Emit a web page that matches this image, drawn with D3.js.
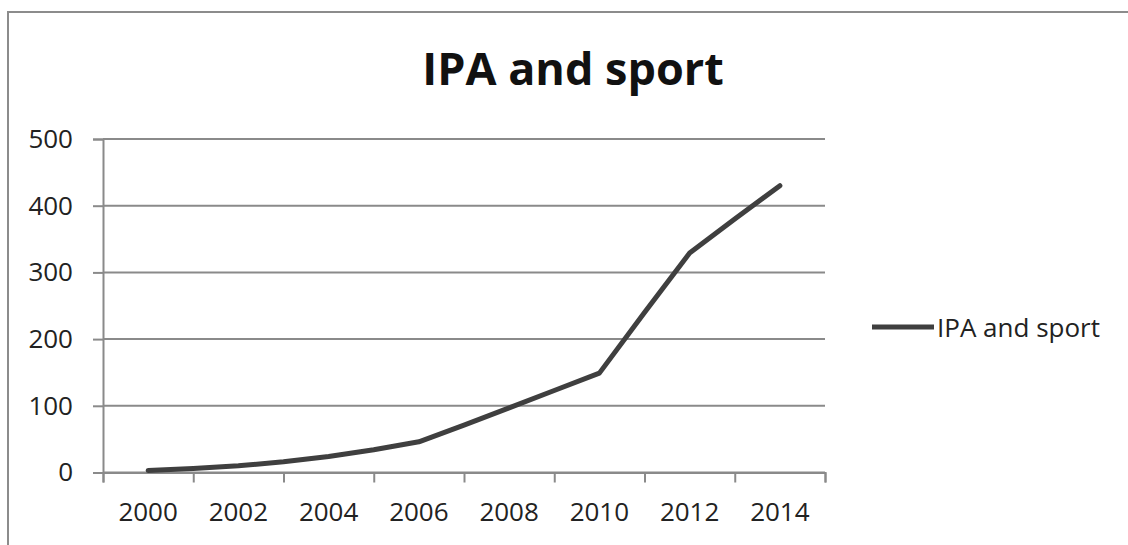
<!DOCTYPE html>
<html>
<head>
<meta charset="utf-8">
<script src="https://cdn.jsdelivr.net/npm/d3@7"></script>
<style>
  body { margin: 0; background: #fff; }
  svg { display: block; font-family: "Open Sans", sans-serif; }
</style>
</head>
<body>
<script>
const WIDTH = 1128;
const HEIGHT = 545;

// data
const years = [2000, 2001, 2002, 2003, 2004, 2005, 2006, 2007, 2008, 2009, 2010, 2011, 2012, 2013, 2014];
const values = [3, 6, 10, 16, 24, 34, 46, 71, 97, 123, 149, 240, 329, 380, 430];
const yTicks = [0, 100, 200, 300, 400, 500];
const xLabels = [2000, 2002, 2004, 2006, 2008, 2010, 2012, 2014];
const seriesName = "IPA and sport";

const LEFT = 103, RIGHT = 825, TOP = 139, BOTTOM = 472.5;
const GRID = "#8a8a8a";
const LINE = "#3f3f3f";

const svg = d3.select("body").append("svg")
  .attr("width", WIDTH)
  .attr("height", HEIGHT);

// outer frame
svg.append("rect")
  .attr("x", 8).attr("y", 12)
  .attr("width", WIDTH + 20).attr("height", HEIGHT + 20)
  .attr("fill", "none")
  .attr("stroke", "#8c8c8c")
  .attr("stroke-width", 2);

// title
svg.append("text")
  .attr("x", 573).attr("y", 85)
  .attr("text-anchor", "middle")
  .attr("font-size", 45)
  .attr("font-weight", "bold")
  .attr("fill", "#111")
  .text(seriesName);

// scales
const x = d3.scaleLinear().domain([1999, 2015]).range([LEFT, RIGHT]);
const y = d3.scaleLinear().domain([0, 500]).range([BOTTOM, TOP]);

// y axis with gridlines
const yAxis = svg.append("g")
  .attr("transform", "translate(" + LEFT + ",0)")
  .call(d3.axisLeft(y).tickValues(yTicks).tickSize(10).tickPadding(20));

yAxis.select(".domain").attr("stroke", GRID).attr("stroke-width", 2);
yAxis.selectAll(".tick line").attr("stroke", GRID).attr("stroke-width", 2);
yAxis.selectAll(".tick text")
  .attr("font-size", 26)
  .attr("font-family", "Open Sans, sans-serif")
  .attr("fill", "#222");

svg.append("g")
  .selectAll("line")
  .data(yTicks)
  .enter().append("line")
  .attr("x1", LEFT).attr("x2", RIGHT)
  .attr("y1", d => y(d)).attr("y2", d => y(d))
  .attr("stroke", GRID)
  .attr("stroke-width", 2);

// x axis: ticks between the labelled years
const oddYears = d3.range(1999, 2016, 2);
const xAxis = svg.append("g")
  .attr("transform", "translate(0," + BOTTOM + ")")
  .call(d3.axisBottom(x).tickValues(oddYears).tickSize(10).tickFormat(""));

xAxis.select(".domain").attr("stroke", GRID).attr("stroke-width", 2);
xAxis.selectAll(".tick line").attr("stroke", GRID).attr("stroke-width", 2);

svg.append("g")
  .selectAll("text")
  .data(xLabels)
  .enter().append("text")
  .attr("x", d => x(d))
  .attr("y", 521)
  .attr("text-anchor", "middle")
  .attr("font-size", 26)
  .attr("fill", "#222")
  .text(d => d);

// the line
const line = d3.line()
  .x((d, i) => x(years[i]))
  .y(d => y(d));

svg.append("path")
  .datum(values)
  .attr("d", line)
  .attr("fill", "none")
  .attr("stroke", LINE)
  .attr("stroke-width", 5)
  .attr("stroke-linejoin", "round")
  .attr("stroke-linecap", "round");

// legend
svg.append("line")
  .attr("x1", 872).attr("x2", 934)
  .attr("y1", 327).attr("y2", 327)
  .attr("stroke", LINE)
  .attr("stroke-width", 5);

svg.append("text")
  .attr("x", 937).attr("y", 337)
  .attr("font-size", 26)
  .attr("fill", "#222")
  .text(seriesName);
</script>
</body>
</html>
